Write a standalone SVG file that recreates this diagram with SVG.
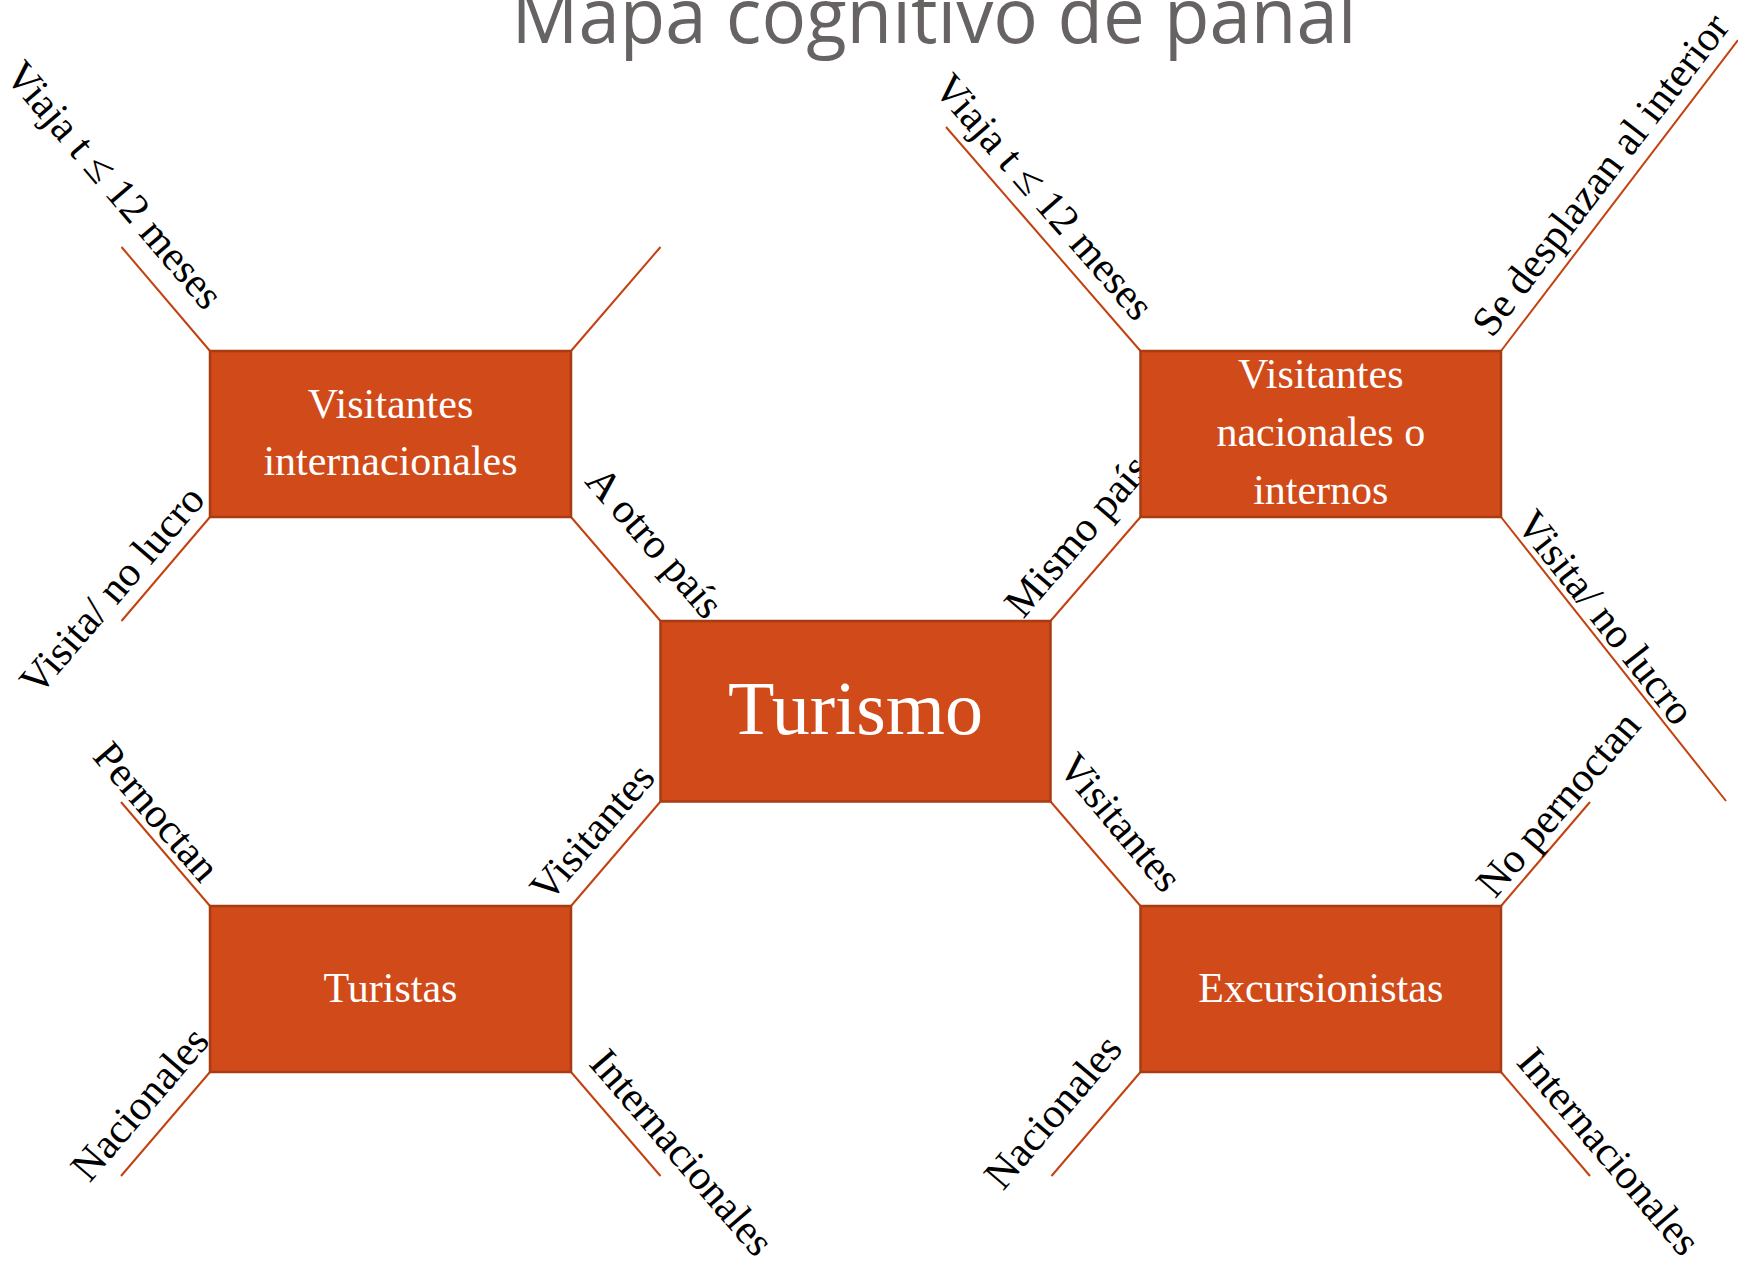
<svg xmlns="http://www.w3.org/2000/svg" width="1738" height="1261" viewBox="0 0 1738 1261">
<style>
.box{fill:#D14A19;stroke:#A83B12;stroke-width:2.5}
.conn line{stroke:#C2410F;stroke-width:2;fill:none}
.lbl{font-family:"Liberation Serif","Times New Roman",serif;font-size:42px;fill:#000;text-anchor:middle}
.bt{font-family:"Liberation Serif","Times New Roman",serif;font-size:42px;fill:#fff;text-anchor:middle}
.title{font-family:"Open Sans","Liberation Sans",sans-serif;font-size:76px;fill:#676363;text-anchor:middle}
</style>
<rect width="1738" height="1261" fill="#fff"/>
<text class="title" x="934" y="43" textLength="845" lengthAdjust="spacingAndGlyphs">Mapa cognitivo de panal</text>
<g id="connectors" class="conn">
<line x1="210" y1="351" x2="121.5" y2="247"/>
<line x1="571" y1="351" x2="660.5" y2="247"/>
<line x1="210" y1="517" x2="121.5" y2="621"/>
<line x1="571" y1="517" x2="660.5" y2="621"/>
<line x1="1140.5" y1="351" x2="946" y2="127"/>
<line x1="1501" y1="351" x2="1738" y2="40"/>
<line x1="1140.5" y1="517" x2="1050.5" y2="621"/>
<line x1="1501" y1="517" x2="1726" y2="801"/>
<line x1="210" y1="906" x2="121" y2="802"/>
<line x1="571" y1="906" x2="660.5" y2="801.5"/>
<line x1="210" y1="1072" x2="121" y2="1176"/>
<line x1="571" y1="1072" x2="660.5" y2="1176"/>
<line x1="1140.5" y1="906" x2="1050.5" y2="801.5"/>
<line x1="1501" y1="906" x2="1590" y2="802"/>
<line x1="1140.5" y1="1072" x2="1051.5" y2="1176"/>
<line x1="1501" y1="1072" x2="1590" y2="1176"/>
</g>
<g id="labels">
<text class="lbl" transform="translate(104,194) rotate(49.6)">Viaja t ≤ 12 meses</text>
<text class="lbl" transform="translate(122.5,598.8) rotate(-49.5)">Visita/ no lucro</text>
<text class="lbl" transform="translate(644.3,551.5) rotate(49)">A otro país</text>
<text class="lbl" transform="translate(1087.4,544.8) rotate(-49.5)">Mismo país</text>
<text class="lbl" transform="translate(1033.7,205.9) rotate(49)">Viaja t ≤ 12 meses</text>
<text class="lbl" transform="translate(1611.5,183) rotate(-52.5)">Se desplazan al interior</text>
<text class="lbl" transform="translate(1594.8,626) rotate(51.8)">Visita/ no lucro</text>
<text class="lbl" transform="translate(146.1,820.7) rotate(49.3)">Pernoctan</text>
<text class="lbl" transform="translate(602.6,841.2) rotate(-49.3)">Visitantes</text>
<text class="lbl" transform="translate(150.2,1113) rotate(-49.4)">Nacionales</text>
<text class="lbl" transform="translate(671.5,1161.5) rotate(49.3)">Internacionales</text>
<text class="lbl" transform="translate(1109.8,831.4) rotate(49.9)">Visitantes</text>
<text class="lbl" transform="translate(1568.7,813) rotate(-49.6)">No pernoctan</text>
<text class="lbl" transform="translate(1063.5,1120.8) rotate(-49.6)">Nacionales</text>
<text class="lbl" transform="translate(1598.5,1160.5) rotate(49.6)">Internacionales</text>
</g>
<g id="node-visitantes-internacionales">
<rect class="box" x="210" y="351" width="361" height="166"/>
<text class="bt" x="390.5" y="418">Visitantes</text>
<text class="bt" x="390.5" y="475">internacionales</text>
</g>
<g id="node-visitantes-nacionales">
<rect class="box" x="1140.5" y="351" width="360.5" height="166"/>
<text class="bt" x="1320.8" y="388">Visitantes</text>
<text class="bt" x="1320.8" y="446">nacionales o</text>
<text class="bt" x="1320.8" y="504">internos</text>
</g>
<g id="node-turismo">
<rect class="box" x="660.5" y="621" width="390" height="180.5"/>
<text class="bt" x="855.5" y="734" style="font-size:76px">Turismo</text>
</g>
<g id="node-turistas">
<rect class="box" x="210" y="906" width="361" height="166"/>
<text class="bt" x="390.5" y="1002">Turistas</text>
</g>
<g id="node-excursionistas">
<rect class="box" x="1140.5" y="906" width="360.5" height="166"/>
<text class="bt" x="1320.8" y="1002">Excursionistas</text>
</g>
</svg>
